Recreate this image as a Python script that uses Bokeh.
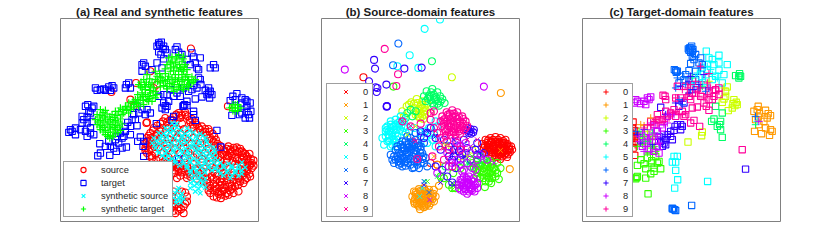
from bokeh.plotting import figure
from bokeh.layouts import row
from bokeh.models import Legend, LegendItem
from bokeh.embed import file_html
from bokeh.resources import INLINE

# Values, in a t-SNE-like plane (no meaningful unit)
source_real = [(385,340),(405,338),(345,355),(370,352),(390,355),(412,350),(425,358),(330,372),(350,368),(375,370),(395,372),(420,368),(440,375),(310,385),(330,388),(355,384),(380,386),(402,388),(430,384),(455,380),(475,388),(300,400),(320,402),(345,398),(365,402),(390,400),(415,402),(440,398),(465,396),(487,402),(290,415),(310,416),(332,414),(355,418),(380,414),(405,416),(430,414),(455,416),(480,414),(497,420),(285,430),(305,432),(325,428),(350,432),(375,430),(400,428),(425,432),(450,430),(475,432),(502,432),(285,445),(300,447),(325,443),(350,447),(375,445),(400,443),(425,447),(450,445),(475,447),(506,445),(530,447),(550,444),(570,447),(290,460),(315,462),(340,458),(365,462),(390,460),(415,458),(440,462),(465,460),(490,458),(515,462),(540,460),(562,458),(585,462),(305,475),(330,477),(355,473),(380,477),(405,475),(430,473),(455,477),(480,475),(505,473),(530,477),(555,475),(580,473),(602,477),(335,490),(358,488),(380,492),(405,490),(430,492),(455,488),(480,492),(505,490),(530,488),(555,492),(580,490),(605,490),(362,505),(385,507),(410,503),(435,507),(460,505),(485,503),(510,507),(535,505),(560,503),(585,507),(605,505),(372,520),(395,518),(420,522),(445,520),(470,518),(495,522),(520,520),(545,518),(570,522),(600,530),(410,535),(440,537),(465,533),(490,537),(515,535),(540,533),(565,537),(590,535),(470,550),(490,552),(515,548),(540,552),(560,548),(580,550),(480,565),(500,567),(520,563),(545,567),(565,575),(480,580),(505,582),(530,580),(500,593),(512,595),(365,590),(410,590),(360,605),(385,607),(410,605),(365,620),(385,622),(400,620),(370,633),(385,633),(422,147),(257,250),(290,368),(288,370),(533,320),(310,265),(300,215),(183,277),(320,255),(240,300),(250,320)]
source_real += [(395,347),(378,345),(360,360),(418,362),(435,368),(338,365),(320,378),(447,385),(465,388),(308,392),(478,396),(295,408),(492,410),(298,423),(490,425),(292,438),(312,440),(510,438),(295,452),(520,450),(535,440),(545,455),(560,443),(575,455),(590,470),(598,462),(305,468),(318,480),(345,482),(595,485),(610,482),(598,498),(610,498),(350,497),(365,497),(372,512),(395,512),(590,515),(598,522),(578,528),(585,540),(570,545),(555,560),(540,572),(525,588),(490,590),(475,572),(480,558),(500,540),(485,528),(530,528),(550,526),(575,512),(390,528),(410,525),(380,535),(420,530),(375,612),(392,628),(405,612),(355,612),(360,628),(395,575),(405,578),(370,575),(400,640),(375,640),(515,575),(550,580),(535,560),(460,545),(450,530),(520,465),(535,470),(548,484),(565,484),(575,466),(520,500),(490,515),(500,528),(515,512)]
source_real += [(525,455),(540,450),(555,452),(568,455),(580,460),(590,478),(575,480),(560,478),(545,468),(530,465),(510,468),(495,470),(600,495),(590,498),(575,500),(592,508),(580,520),(565,530),(550,540),(530,542),(510,545),(495,560),(510,558),(525,555),(545,558),(565,555),(505,575),(520,572),(535,585),(512,585),(490,572),(470,540),(455,515),(440,512),(415,515),(400,505),(385,515),(380,502),(368,498),(300,415),(315,408),(330,395),(350,378),(368,362),(388,348),(405,345),(428,375),(450,390),(470,405),(485,420),(495,438),(290,425),(285,452),(298,470)]
target_real = [(325,130),(333,128),(320,140),(340,140),(325,157),(345,150),(350,160),(380,142),(385,158),(395,165),(425,160),(430,172),(450,175),(435,190),(420,195),(410,180),(340,178),(320,190),(335,205),(280,190),(275,195),(285,200),(305,210),(275,215),(490,195),(495,205),(480,205),(440,205),(445,235),(450,240),(430,258),(440,265),(400,265),(415,275),(380,280),(390,290),(360,270),(340,285),(325,290),(475,265),(480,275),(470,285),(485,285),(455,292),(478,295),(435,298),(410,305),(398,320),(410,318),(430,335),(340,310),(350,320),(335,325),(345,330),(290,330),(300,340),(285,345),(260,320),(265,340),(135,265),(140,272),(150,270),(165,272),(175,262),(185,258),(180,272),(235,250),(240,265),(225,265),(105,320),(112,315),(125,325),(130,320),(120,340),(95,350),(110,352),(95,370),(110,370),(125,365),(120,385),(75,385),(65,395),(55,398),(75,405),(105,395),(110,410),(130,405),(148,432),(175,425),(180,440),(195,420),(205,430),(220,410),(225,395),(215,415),(228,442),(215,445),(198,455),(178,467),(150,460),(142,468),(240,380),(260,378),(232,368),(255,360),(270,412),(262,425),(280,425),(278,440),(318,372),(370,350),(365,362),(400,318),(435,362),(500,392),(512,442),(280,470),(385,478),(430,345),(403,315),(560,282),(548,290),(540,303),(575,295),(590,305),(600,310),(575,310),(590,320),(602,335),(590,335),(598,355),(568,345),(585,355),(545,347),(555,300)]
target_real += [(328,135),(338,148),(332,165),(375,150),(445,210),(452,255),(425,270),(370,290),(350,285),(475,280),(465,272),(345,318),(355,305),(275,330),(250,345),(245,360),(225,380),(210,400),(200,410),(165,440),(190,445),(240,405),(120,400),(90,390),(100,360),(115,335),(60,390),(160,268),(190,265),(228,255),(585,300),(595,345),(575,340)]
source_synth = [(365,370),(380,372),(345,385),(360,387),(380,384),(410,386),(325,400),(340,402),(360,398),(385,400),(405,402),(430,398),(450,402),(310,415),(330,417),(350,413),(375,415),(395,417),(420,413),(440,417),(465,415),(305,430),(325,432),(345,428),(365,430),(390,432),(410,428),(430,432),(450,430),(470,428),(315,445),(340,447),(360,443),(380,445),(405,447),(425,443),(445,447),(465,445),(490,443),(325,460),(345,462),(370,458),(395,460),(415,462),(440,458),(460,460),(480,462),(495,458),(345,475),(365,477),(385,473),(410,475),(430,477),(455,473),(475,477),(495,475),(375,490),(400,492),(420,488),(445,490),(465,492),(490,488),(510,490),(535,492),(575,488),(410,505),(430,507),(450,503),(475,505),(495,507),(520,503),(545,505),(565,507),(585,503),(420,520),(445,522),(465,518),(510,522),(530,518),(555,520),(575,522),(425,535),(445,533),(465,537),(540,535),(420,550),(440,552),(460,548),(420,565),(445,567),(465,563),(385,565),(450,580),(375,580),(395,582),(370,595),(385,593),(400,597),(378,610),(392,608)]
source_synth += [(372,378),(352,393),(370,393),(392,392),(418,393),(333,408),(348,407),(368,408),(395,408),(412,408),(438,408),(458,408),(318,423),(338,423),(358,423),(383,423),(402,423),(427,422),(447,423),(468,422),(312,437),(333,438),(353,437),(375,438),(397,437),(418,438),(438,438),(458,438),(478,437),(322,452),(350,453),(368,452),(392,452),(412,453),(433,452),(453,453),(473,452),(492,452),(335,468),(355,468),(378,467),(402,468),(422,468),(447,467),(468,468),(488,468),(355,483),(375,483),(397,483),(418,483),(442,482),(463,483),(483,483),(503,482),(388,498),(410,498),(432,497),(455,498),(478,497),(500,498),(520,497),(545,498),(565,497),(420,512),(440,512),(462,512),(485,512),(505,512),(532,512),(555,512),(575,512),(432,527),(455,527),(520,527),(545,527),(565,528),(430,543),(450,543),(432,558),(452,558),(435,575),(380,572),(392,590),(378,602),(390,600)]
target_synth = [(150,330),(165,332),(140,345),(155,347),(170,343),(185,345),(200,347),(135,360),(150,362),(165,358),(180,360),(195,362),(210,358),(140,375),(155,377),(170,373),(185,375),(200,377),(215,373),(150,390),(165,392),(180,388),(195,390),(210,392),(165,405),(180,407),(195,403),(178,415),(195,335),(210,325),(225,320),(235,310),(250,315),(220,340),(240,330),(255,300),(270,295),(285,285),(300,280),(315,295),(305,305),(290,300),(265,310),(320,285),(265,255),(280,240),(290,225),(275,265),(295,255),(285,270),(310,265),(305,250),(315,215),(320,230),(335,235),(330,250),(345,245),(350,260),(365,265),(380,270),(395,265),(410,260),(425,250),(435,240),(415,240),(395,245),(375,240),(355,230),(360,215),(375,225),(395,225),(410,225),(350,195),(365,185),(380,178),(395,185),(405,195),(410,210),(390,205),(370,200),(355,175),(385,165),(400,170),(555,325),(545,323),(565,325),(555,315),(555,335),(548,315),(562,315),(548,333),(562,333),(538,325),(572,325)]
target_synth += [(158,338),(148,352),(163,352),(178,352),(193,353),(143,367),(158,367),(173,367),(188,367),(203,367),(148,382),(163,383),(178,382),(193,383),(208,382),(158,397),(173,398),(188,397),(203,398),(172,410),(187,411),(205,335),(217,330),(230,325),(243,322),(228,332),(248,305),(262,300),(278,290),(293,290),(308,288),(298,296),(278,302),(258,312),(272,248),(283,255),(270,262),(288,248),(298,238),(300,262),(322,245),(338,243),(340,258),(358,252),(372,255),(388,255),(402,255),(418,250),(430,245),(425,232),(405,232),(385,235),(365,235),(345,222),(328,222),(370,212),(385,215),(400,215),(360,190),(375,190),(388,195),(398,178),(402,202),(378,172),(365,172)]
target_synth += [(215,345),(235,340),(250,325),(265,320),(280,315),(295,305),(275,280),(262,285),(285,262),(298,272),(315,275),(330,262),(350,268),(370,275),(385,262),(400,270),(415,262),(345,208),(362,205),(380,205),(395,210),(352,240),(368,248),(382,245),(398,240),(412,242),(330,232),(315,240)]

# panel (b): circles per class (real), crosses per class (synthetic)
b_real = {
 0: [(128,233),(495,420),(510,415),(525,412),(540,415),(555,420),(485,432),(500,430),(515,428),(530,426),(545,430),(560,432),(572,440),(490,445),(505,443),(520,441),(535,445),(550,443),(565,447),(575,450),(495,458),(510,456),(525,460),(540,458),(555,460),(568,458),(515,470),(530,472),(545,470),(560,472),(330,490),(350,495),(503,422),(518,420),(533,420),(548,424),(493,438),(510,436),(527,434),(542,437),(558,438),(500,450),(515,450),(530,452),(545,450),(560,452),(505,465),(522,466),(538,465),(553,465),(512,425),(525,428),(538,428),(552,430),(502,435),(518,438),(535,438),(550,438),(565,440),(508,445),(523,448),(538,450),(553,448),(568,450),(515,458),(532,458),(547,458),(562,464),(525,472),(540,478)],
 1: [(541,280),(568,508),(355,558),(350,495),(280,575),(295,568),(310,565),(325,570),(340,570),(275,590),(290,582),(305,580),(320,585),(335,590),(345,590),(280,605),(295,597),(310,595),(325,600),(340,605),(290,615),(305,610),(320,612),(298,628),(310,622),(285,585),(298,574),(315,574),(330,580),(283,598),(300,588),(315,590),(330,595),(288,610),(300,604),(315,604),(330,610),(295,620),(305,618),(315,618),(290,590),(305,588),(322,578),(338,582),(293,603),(308,600),(322,606),(335,598),(298,612),(310,614),(285,578),(305,572),(282,612),(325,618)],
 2: [(394,233),(245,335),(258,320),(272,308),(288,298),(305,305),(320,312),(250,350),(300,320),(310,335),(295,335),(305,350),(285,345),(298,355),(312,322),(280,325),(330,340),(290,310),(303,328),(300,342),(312,345),(292,350),(305,315),(296,328),(288,338),(308,358),(316,332),(265,315),(280,312),(375,440),(420,470),(455,450)],
 3: [(218,261),(455,490),(470,485),(490,480),(510,485),(530,490),(460,505),(480,500),(500,498),(520,505),(540,505),(470,520),(490,515),(510,520),(530,520),(478,535),(495,545),(515,535),(535,538),(493,562),(512,550),(395,565),(405,565),(385,555),(370,535),(360,530),(465,495),(485,490),(500,490),(515,495),(470,510),(490,505),(505,510),(525,512),(485,525),(500,530),(515,525),(525,530),(505,545),(410,555),(478,495),(495,495),(510,502),(478,512),(498,520),(515,512),(470,530),(490,535),(505,535),(440,490),(420,505),(398,520)],
 4: [(334,185),(335,268),(318,275),(350,278),(310,290),(325,288),(340,285),(358,290),(315,305),(330,302),(345,300),(360,305),(372,310),(340,318),(355,318),(270,330),(285,335),(260,340),(275,350),(255,355),(332,278),(345,292),(352,305),(335,310),(322,297),(365,298),(340,295),(350,312),(328,292),(450,500),(480,470),(375,500)],
 5: [(358,60),(312,88),(267,167),(230,200),(293,205),(185,415),(195,395),(210,375),(225,360),(240,350),(190,435),(205,425),(205,405),(220,390),(235,378),(250,365),(200,380),(215,410),(230,410),(245,395),(215,435),(235,430),(320,430),(340,400),(350,380),(345,440),(325,385),(200,390),(212,385),(225,375),(238,365),(195,410),(210,395),(225,400),(238,390),(205,415),(220,420),(210,440),(225,440),(255,380),(255,400),(315,395),(335,420),(345,365),(205,395),(218,380),(232,370),(215,400),(228,390),(242,378),(200,425),(215,420),(228,420),(195,385),(210,365),(250,385),(265,395),(280,385),(300,400),(330,405)],
 6: [(233,132),(217,197),(210,465),(225,450),(240,435),(255,425),(270,415),(285,420),(300,440),(215,480),(230,470),(245,455),(260,445),(275,440),(290,445),(305,460),(220,490),(235,485),(250,475),(265,465),(280,460),(295,470),(315,475),(245,500),(262,490),(280,485),(280,503),(300,490),(320,500),(260,410),(285,400),(300,410),(220,470),(235,460),(250,445),(265,432),(278,428),(292,430),(225,480),(240,475),(255,465),(270,455),(285,452),(300,450),(240,490),(255,485),(270,478),(288,475),(305,478),(255,498),(270,495),(290,495),(310,490),(230,440),(245,425),(310,430),(232,448),(245,442),(258,436),(272,428),(240,462),(252,452),(265,442),(280,436),(295,438),(232,478),(245,468),(258,458),(272,448),(285,462),(298,460),(250,488),(262,478),(276,470),(292,482),(308,470),(235,495),(275,505),(295,505)],
 7: [(160,181),(163,207),(251,207),(303,204),(197,255),(145,245),(170,265),(165,263),(168,277),(198,320),(199,319),(198,321),(450,388),(440,392),(460,390),(452,402),(320,400),(310,415),(330,385),(400,470),(420,480),(435,460),(380,530),(395,548),(470,430),(490,460),(410,440),(360,450),(445,400),(400,450),(425,465),(450,480),(465,450),(385,470),(370,420),(345,415),(405,505),(430,420),(300,395),(448,395),(458,398),(442,385),(395,480),(415,455),(440,445),(470,465),(385,440),(345,500),(365,510)],
 8: [(72,210),(490,261),(420,540),(430,530),(445,530),(460,535),(470,550),(415,555),(430,550),(445,548),(460,558),(470,565),(420,570),(435,568),(450,570),(462,575),(440,582),(430,510),(410,480),(450,460),(385,500),(470,480),(420,440),(350,520),(425,540),(440,540),(452,542),(425,558),(438,558),(452,555),(460,545),(430,575),(445,575),(455,565),(415,565),(395,490),(455,505),(420,495),(440,490),(480,465),(405,425),(435,545),(448,562),(422,548),(465,555),(438,535),(430,565),(443,552),(455,572),(425,515),(465,510),(380,460),(435,430),(500,480)],
 9: [(192,148),(232,224),(227,259),(395,332),(378,338),(410,338),(365,350),(385,350),(405,350),(425,350),(360,365),(378,365),(398,365),(418,365),(435,365),(365,380),(385,380),(405,380),(425,380),(440,378),(375,395),(395,395),(415,395),(430,392),(330,340),(340,335),(270,380),(245,365),(300,372),(360,415),(290,478),(380,425),(388,342),(400,342),(372,358),(390,358),(410,358),(428,358),(370,372),(390,372),(410,372),(428,372),(380,388),(400,388),(420,388),(390,405),(405,405),(350,400),(330,360),(355,440),(385,450),(370,480),(420,450),(382,345),(397,350),(415,350),(368,362),(382,372),(400,375),(418,378),(372,388),(392,382),(410,385),(385,398),(400,398),(418,402),(435,385),(375,410),(340,385),(410,430),(395,500),(335,470)],
}
b_synth = {
 0: [(510,437),(525,455),(495,450),(540,470)],
 1: [(540,452),(318,575),(300,590),(340,470)],
 2: [(285,380),(375,435),(440,470),(260,405)],
 3: [(320,545),(500,500),(470,505),(395,570),(455,470),(525,495),(360,540)],
 4: [(312,545),(480,490),(350,530),(500,480),(440,490)],
 5: [(297,590),(305,565),(230,375),(340,400),(225,415)],
 6: [(325,578),(245,430),(310,400),(265,450),(310,545),(300,430)],
 7: [(310,555),(395,550),(360,548),(320,395),(430,470),(470,455),(395,460),(480,460),(400,420),(345,410)],
 8: [(327,600),(420,460),(450,440),(380,490),(520,490),(490,475),(415,430),(465,495),(400,490)],
 9: [(245,365),(270,378),(285,425),(292,478),(335,340),(380,375),(410,410),(440,420),(395,455),(280,420),(470,420),(345,395),(430,445),(370,445)],
}

# panel (c): squares per class (real), pluses per class (synthetic)
c_real = {
 0: [(172,367),(170,385),(172,405),(175,430),(177,467),(165,400),(160,420),(172,445),(168,415),(175,392)],
 1: [(548,320),(535,335),(570,332),(585,348),(548,352),(565,365),(585,390),(570,385),(550,375),(537,395),(558,402),(582,407),(540,360),(575,355),(545,330),(552,342),(578,342),(590,395)],
 2: [(455,262),(450,275),(445,298),(440,308),(475,300),(485,315),(470,325),(458,333),(478,318),(380,397),(378,408),(337,427),(450,290),(472,312),(482,308)],
 3: [(185,497),(205,492),(228,483),(250,485),(210,507),(255,507),(235,515),(225,522),(185,530),(180,537),(210,535),(217,582),(228,490),(245,490),(235,505),(183,533),(195,480),(215,475),(240,470)],
 4: [(492,222),(480,228),(490,235),(440,340),(420,320),(408,365),(415,358),(435,365),(425,380),(435,390),(440,413),(490,228),(495,230),(432,375)],
 5: [(392,155),(400,175),(430,167),(415,195),(455,195),(430,212),(445,225),(295,470),(305,470),(290,487),(300,487),(300,512),(306,540),(297,565),(396,545),(410,180),(380,205),(420,230),(395,210),(430,190),(410,240),(370,235),(440,250),(395,195)],
 6: [(345,145),(340,152),(350,155),(360,165),(375,175),(345,192),(300,213),(305,215),(340,213),(315,230),(290,627),(297,630),(293,628),(348,617),(380,195),(360,215),(350,170),(325,240),(338,148),(348,140),(296,210),(302,218),(355,180),(370,190),(330,225),(290,625),(300,632),(342,145),(352,150),(345,158),(310,250),(340,240),(360,240)],
 7: [(255,323),(320,380),(305,375),(315,390),(285,410),(270,420),(260,440),(270,435),(510,508),(310,320),(295,392),(250,410),(315,375),(275,405),(265,430),(298,380),(285,395),(255,425),(290,420),(325,310)],
 8: [(180,300),(175,310),(215,295),(225,292),(195,312),(210,315),(250,460),(245,440),(220,450),(230,425),(205,305),(220,300),(185,305),(235,455),(200,440),(240,425),(225,400),(210,415),(260,385),(245,395),(275,350)],
 9: [(262,287),(270,300),(300,295),(315,295),(350,325),(365,322),(392,320),(400,332),(345,370),(355,362),(372,380),(330,345),(500,450),(375,290),(420,270),(400,280),(385,255),(330,260),(430,285),(350,280),(305,260),(245,345),(260,360),(285,340),(300,350),(320,335),(340,290),(400,300),(415,290),(360,270),(325,350),(380,272),(268,290),(295,330),(270,335),(250,360),(235,375),(225,365),(345,300),(385,310),(430,265),(410,300)],
}
c_synth = {
 0: [(178,400),(185,418),(172,425),(180,385),(178,435),(188,405)],
 1: [(240,360),(195,375),(545,352),(225,355),(205,378)],
 2: [(215,395),(400,245),(235,410),(445,265),(195,415)],
 3: [(205,410),(235,440),(225,420),(190,395),(215,460),(240,455),(200,435),(225,445),(210,425),(185,440)],
 4: [(215,425),(195,405),(380,260),(540,375),(230,400),(350,235),(225,435),(200,420)],
 5: [(380,240),(365,220),(350,250),(410,225),(545,365),(395,200),(375,215),(425,235),(390,235),(360,235),(405,210),(385,255)],
 6: [(320,315),(305,235),(345,270),(375,205),(180,395),(540,350),(330,255),(390,275),(310,300),(355,255),(370,265),(300,265)],
 7: [(355,270),(340,245),(320,305),(270,345),(185,405),(205,390),(370,255),(300,310),(255,415),(230,435),(345,230),(385,225),(315,260),(340,280),(400,265),(270,405),(195,430)],
 8: [(205,420),(220,405),(235,385),(250,430),(190,425),(215,440),(225,370),(280,345),(550,365),(240,450),(205,440),(230,420),(250,385),(200,400),(275,370),(295,345),(215,415),(235,400),(220,430),(190,410),(205,455),(240,370),(265,375),(245,410),(225,455)],
 9: [(375,200),(400,222),(420,265),(395,285),(370,290),(335,285),(300,295),(330,340),(290,340),(265,350),(250,370),(225,378),(205,385),(405,265),(360,245),(420,280),(385,295),(350,290),(320,270),(240,360),(280,355),(310,345),(375,265),(335,265),(430,275),(265,365),(410,280),(365,275),(345,255),(395,250),(325,295),(255,355),(235,365),(215,375),(300,335),(320,345)],
}

digit_labels = ["0","1","2","3","4","5","6","7","8","9"]
class_colors = ["#ff0000","#ff9900","#ccff00","#33ff00","#00ff66","#00ffff","#0066ff","#3300ff","#cc00ff","#ff0099"]
FONT = "Liberation Sans"


def panel(title, xr, left, right):
    p = figure(title=title, output_backend="svg", toolbar_location=None,
               x_range=xr, y_range=(665, 57), frame_width=198, frame_height=203,
               x_axis_location=None, y_axis_location=None,
               min_border_left=left, min_border_right=right, min_border_top=18, min_border_bottom=14,
               background_fill_color="white", border_fill_color="white")
    p.grid.visible = False
    p.outline_line_color = "#808080"
    p.outline_line_width = 1
    p.title.align = "center"
    p.title.standoff = 2
    p.title.text_font = FONT
    p.title.text_font_size = "11.5px"
    p.title.text_font_style = "bold"
    p.title.text_color = "#1a1a1a"
    return p


def pts(p, data, marker, color, size, width=1.1):
    return p.scatter([d[0] for d in data], [d[1] for d in data], marker=marker, size=size,
                     fill_color=None, line_color=color, line_width=width)


def legend(p, items, location, glyph_w, label_w):
    lg = Legend(items=[LegendItem(label=l, renderers=[r]) for l, r in items], location=location,
                glyph_width=glyph_w, glyph_height=13, label_height=8, label_width=label_w, label_standoff=0,
                spacing=0, padding=1, margin=0, label_text_font=FONT, label_text_font_size="9.3px",
                label_text_color="#262626", border_line_color="#404040", border_line_width=1,
                background_fill_color="white", background_fill_alpha=1)
    p.add_layout(lg, "center")


pa = panel("(a) Real and synthetic features", (30, 625), 60, 12)
ra = pts(pa, source_real, "circle", "#ff0000", 7)
rb = pts(pa, target_real, "square", "#0000ff", 6.3)
rc = pts(pa, source_synth, "x", "#00ffff", 6.5, 1.2)
rd = pts(pa, target_synth, "cross", "#00ff00", 7.5, 1.2)
legend(pa, [("source", ra), ("target", rb), ("synthetic source", rc), ("synthetic target", rd)], (3, 4), 36, 70)

pb = panel("(b) Source-domain features", (2, 597), 51, 11)
for i in range(10):
    pts(pb, b_real[i], "circle", class_colors[i], 7)
b_leg = []
for i in range(10):
    b_leg.append((digit_labels[i], pts(pb, b_synth[i], "x", class_colors[i], 6.5, 1.0)))
legend(pb, b_leg, (5, 4), 35, 8)

pc = panel("(c) Target-domain features", (20, 615), 52, 10)
for i in range(10):
    pts(pc, c_real[i], "square", class_colors[i], 6.3)
c_leg = []
for i in range(10):
    c_leg.append((digit_labels[i], pts(pc, c_synth[i], "cross", class_colors[i], 7.5, 1.0)))
legend(pc, c_leg, (4, 4), 35, 8)

layout = row(pa, pb, pc, spacing=0)
open("out.html", "w").write(file_html(layout, INLINE))
